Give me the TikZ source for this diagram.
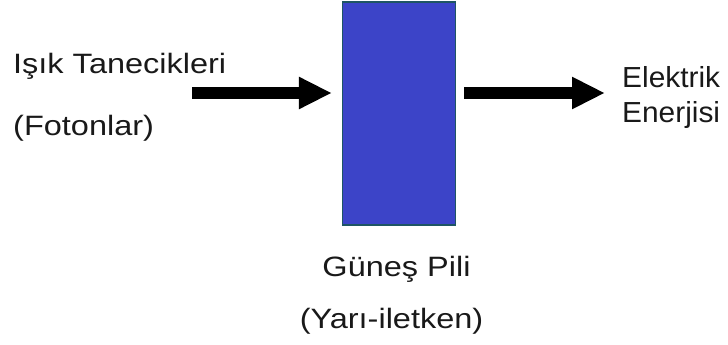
\documentclass[tikz,border=0pt]{standalone}
\usepackage{fontspec}
\setmainfont{Liberation Sans}[FakeStretch=1.16]
\newfontfamily\narrowsans{Liberation Sans}[FakeStretch=1.03]
\usetikzlibrary{arrows.meta}
\definecolor{cellblue}{RGB}{60,68,200}
\definecolor{celledge}{RGB}{30,85,100}
\definecolor{txt}{RGB}{25,25,25}
\begin{document}
\begin{tikzpicture}[x=1pt,y=-1pt,
  lbl/.style={font=\fontsize{28}{30}\selectfont, text=txt, inner sep=0pt, anchor=base west},
  rlbl/.style={font=\narrowsans\fontsize{29}{30}\selectfont, text=txt, inner sep=0pt, anchor=base west},
  clbl/.style={font=\fontsize{28}{30}\selectfont, text=txt, inner sep=0pt, anchor=base},
  bigarrow/.style={line width=12pt, -{Triangle[length=33pt,width=30pt]}}]
\useasboundingbox (0,0) rectangle (728,345);
\node[draw=celledge, line width=1.2pt, fill=cellblue, minimum width=113pt, minimum height=223pt, inner sep=0pt] (cell) at (399,113.5) {};
\node[lbl] (in1) at (13,74) {Işık Tanecikleri};
\node[lbl] (in2) at (13,135) {(Fotonlar)};
\node[rlbl] (out1) at (622,88) {Elektrik};
\node[rlbl] (out2) at (622,122) {Enerjisi};
\node[clbl] (c1) at (396.5,276) {Güneş Pili};
\node[clbl] (c2) at (391.5,328) {(Yarı-iletken)};
\coordinate (ls) at (192,93);
\coordinate (rt) at (605,93);
\draw[bigarrow] (ls) -- ([xshift=-10pt]ls -| cell.west);
\draw[bigarrow] ([xshift=8pt]cell.east |- rt) -- (rt);
\end{tikzpicture}
\end{document}
